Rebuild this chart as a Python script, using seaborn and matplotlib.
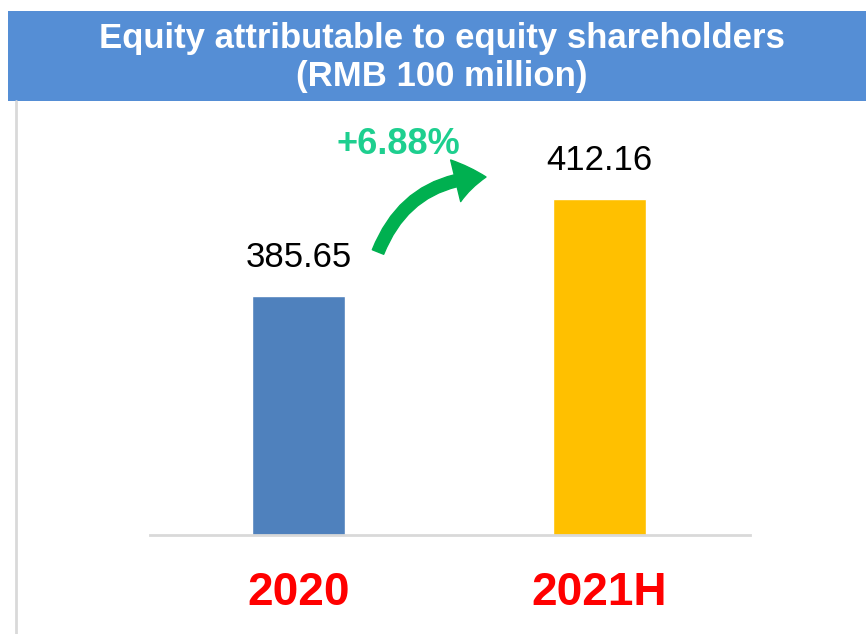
import matplotlib.pyplot as plt
import seaborn as sns
import pandas as pd
from matplotlib.patches import Rectangle
from matplotlib.lines import Line2D

# Chart data
periods = ['2020', '2021H']
equity = [385.65, 412.16]
bar_colors = ['#4F81BD', '#FFC000']
growth_label = '+6.88%'

sns.set_theme(style='white')
plt.rcParams['font.family'] = ['Liberation Sans', 'DejaVu Sans']

df = pd.DataFrame({'period': periods, 'equity': equity})

fig = plt.figure(figsize=(8.66, 6.34), dpi=100)
ax = fig.add_axes([0.173, 0.156, 0.693, 0.670])

sns.barplot(data=df, x='period', y='equity', hue='period', palette=bar_colors,
            width=0.31, legend=False, ax=ax, saturation=1)

ax.set_ylim(320.3, 436.5)
ax.set_xlim(-0.497, 1.503)
ax.set_xlabel('')
ax.set_ylabel('')
ax.set_yticks([])
for side in ['top', 'left', 'right']:
    ax.spines[side].set_visible(False)
ax.spines['bottom'].set_color('#D9D9D9')
ax.spines['bottom'].set_linewidth(2)
ax.tick_params(axis='x', length=0, pad=26, labelsize=33, labelcolor='#FF0000')
for lbl in ax.get_xticklabels():
    lbl.set_fontweight('bold')

for cont in ax.containers:
    ax.bar_label(cont, fmt='%.2f', padding=16, fontsize=25, color='black')

# Title banner
fig.patches.append(Rectangle((0.009, 0.8407), 0.991, 0.142, transform=fig.transFigure,
                             facecolor='#558ED5', edgecolor='none', zorder=0))
fig.text(0.51, 0.909, 'Equity attributable to equity shareholders\n(RMB 100 million)',
         ha='center', va='center', color='white', fontsize=25, fontweight='bold',
         linespacing=1.2)

# thin gray line on the left edge
fig.add_artist(Line2D([0.0185, 0.0185], [0, 0.8407], transform=fig.transFigure,
                      color='#D9D9D9', linewidth=2))

# growth arrow and label
ax.annotate('', xy=(486, 457), xytext=(378, 382), xycoords='figure pixels',
            textcoords='figure pixels',
            arrowprops=dict(arrowstyle='simple,head_width=1.4,head_length=1.0,tail_width=0.4',
                            connectionstyle='arc3,rad=-0.33', color='#00B050',
                            mutation_scale=22, shrinkA=0, shrinkB=0))
fig.text(398 / 866, 1 - 145 / 634, growth_label, ha='center', va='center',
         color='#1ECF8F', fontsize=26, fontweight='bold')

fig.savefig('out.png', dpi=100)
